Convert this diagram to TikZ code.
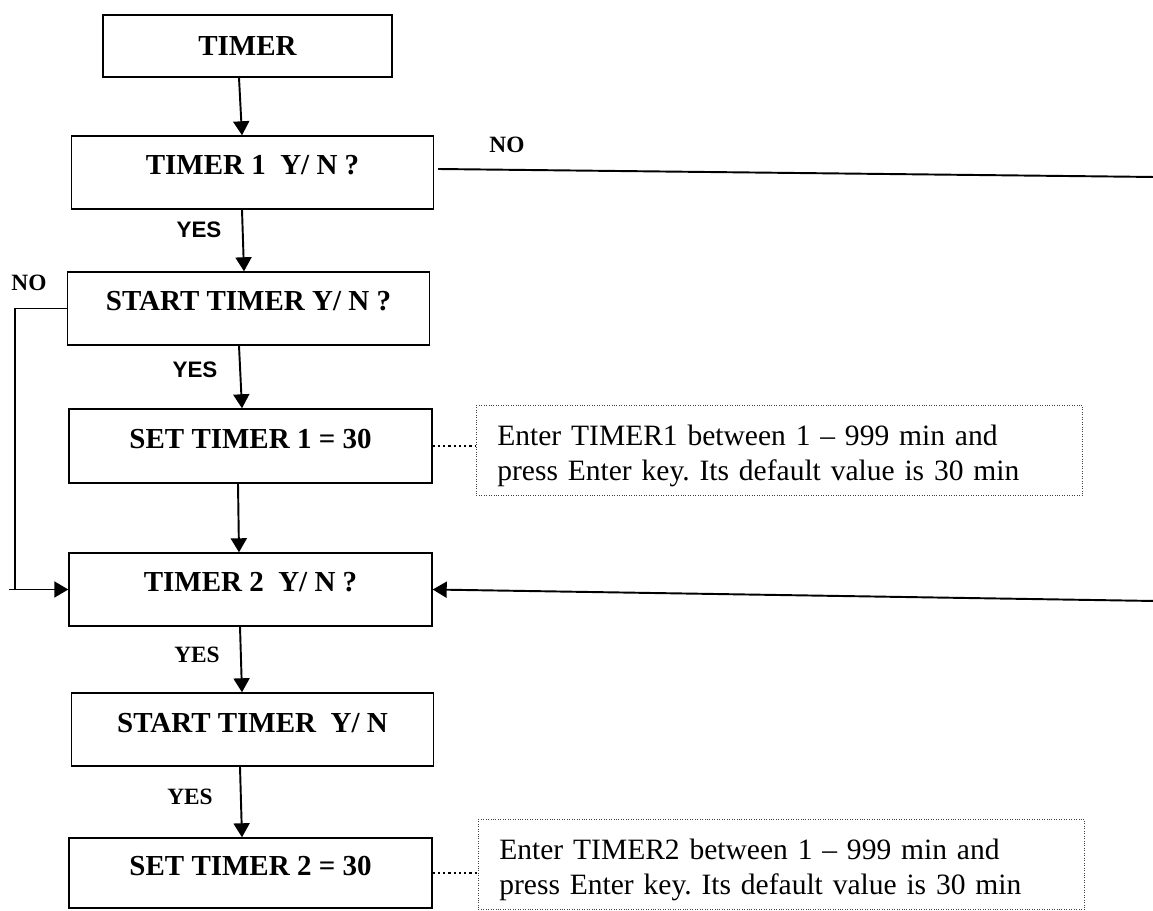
\documentclass[tikz,border=0pt]{standalone}
\usepackage{fontspec}
\setmainfont{Liberation Serif}
\setsansfont{Liberation Sans}
\usepackage{tikz}
\usetikzlibrary{arrows.meta}
\frenchspacing

\tikzset{
  box/.style={draw, line width=0.8pt, minimum width=72.4mm, minimum height=14.6mm, inner sep=0pt,
    font=\fontsize{16.5}{19}\selectfont\bfseries, text height=3.8mm, text depth=2.8mm},
  nota/.style={draw=black!75, densely dotted, line width=0.4pt, anchor=north west,
    minimum width=121.2mm, inner xsep=4.2mm, inner ysep=0pt, text width=112.8mm, align=left,
    text height=8mm, text depth=10mm, font=\fontsize{16.8}{19.85}\selectfont},
  flow/.style={line width=1.1pt, -{Triangle[length=2.8mm, width=3.2mm]}},
  linea/.style={line width=1.1pt},
  punti/.style={line width=1.5pt, dash pattern=on 0.45mm off 0.6mm},
  yes/.style={font=\fontsize{12.75}{14}\selectfont\sffamily\bfseries, inner sep=0pt},
  etich/.style={font=\fontsize{13.3}{15}\selectfont\bfseries, inner sep=0pt}
}

\begin{document}
\begin{tikzpicture}[x=0.2mm, y=-0.2mm]
  \useasboundingbox (0,0) rectangle (1153,911);

  % blocchi
  \node[box, text depth=0pt, minimum width=57.8mm, minimum height=12.4mm] (timer) at (247.5,46) {TIMER};
  \node[box] (t1) at (252.5,172.5) {TIMER 1\ \ Y/ N ?};
  \node[box] (start1) at (248.5,308.5) {START TIMER Y/ N ?};
  \node[box, minimum width=72.6mm, minimum height=14.8mm] (set1) at (250.5,446) {SET TIMER 1 = 30};
  \node[box, minimum width=72.6mm] (t2) at (250.5,589.5) {TIMER 2\ \ Y/ N ?};
  \node[box] (start2) at (252.5,729.5) {START TIMER\ \ Y/ N};
  \node[box, minimum width=72.6mm, minimum height=14mm] (set2) at (250.5,873) {SET TIMER 2 = 30};

  % note
  \node[nota] (nota1) at (476,405) {Enter TIMER1 between 1 – 999 min and\\press Enter key. Its default value is 30 min};
  \node[nota] (nota2) at (478,819) {Enter TIMER2 between 1 – 999 min and\\press Enter key. Its default value is 30 min};

  % etichette
  \node[yes] (yes1) at (199,230) {YES};
  \node[yes] (yes2) at (195,370) {YES};
  \node[etich] (yes3) at (197,655) {YES};
  \node[etich] (yes4) at (190,797) {YES};
  \node[etich] (no1) at (507,145) {NO};
  \node[etich] (no2) at (29,283) {NO};

  % frecce verticali
  \draw[flow] ([xshift=-1.7mm]timer.south) -- ([xshift=-2.1mm]t1.north);
  \draw[flow] ([xshift=-2.1mm]t1.south) -- ([xshift=-0.9mm]start1.north);
  \draw[flow] ([xshift=-1.9mm]start1.south) -- ([xshift=-1.7mm]set1.north);
  \draw[flow] ([xshift=-2.5mm]set1.south) -- ([xshift=-2.3mm]t2.north);
  \draw[flow] ([xshift=-2.1mm]t2.south) -- ([xshift=-2.1mm]start2.north);
  \draw[flow] ([xshift=-2.5mm]start2.south) -- ([xshift=-1.7mm]set2.north);

  % rami NO a destra
  \coordinate (fuori1) at (1155,177);
  \coordinate (fuori2) at (1155,601);
  \draw[linea] ([shift={(0.8mm,0.7mm)}]t1.east) -- (fuori1);
  \draw[flow] (fuori2) -- (t2.east);

  % ramo NO a sinistra
  \coordinate (giroA) at (15,308.5);
  \coordinate (giroB) at (15,589.5);
  \coordinate (giroC) at (9,589.5);
  \draw[line width=0.8pt] (start1.west) -- (giroA) -- (giroB);
  \draw[flow] (giroC) -- (t2.west);

  % collegamenti alle note
  \draw[punti] (set1.east) -- (set1.east -| nota1.west);
  \draw[punti] (set2.east) -- (set2.east -| nota2.west);
\end{tikzpicture}
\end{document}
